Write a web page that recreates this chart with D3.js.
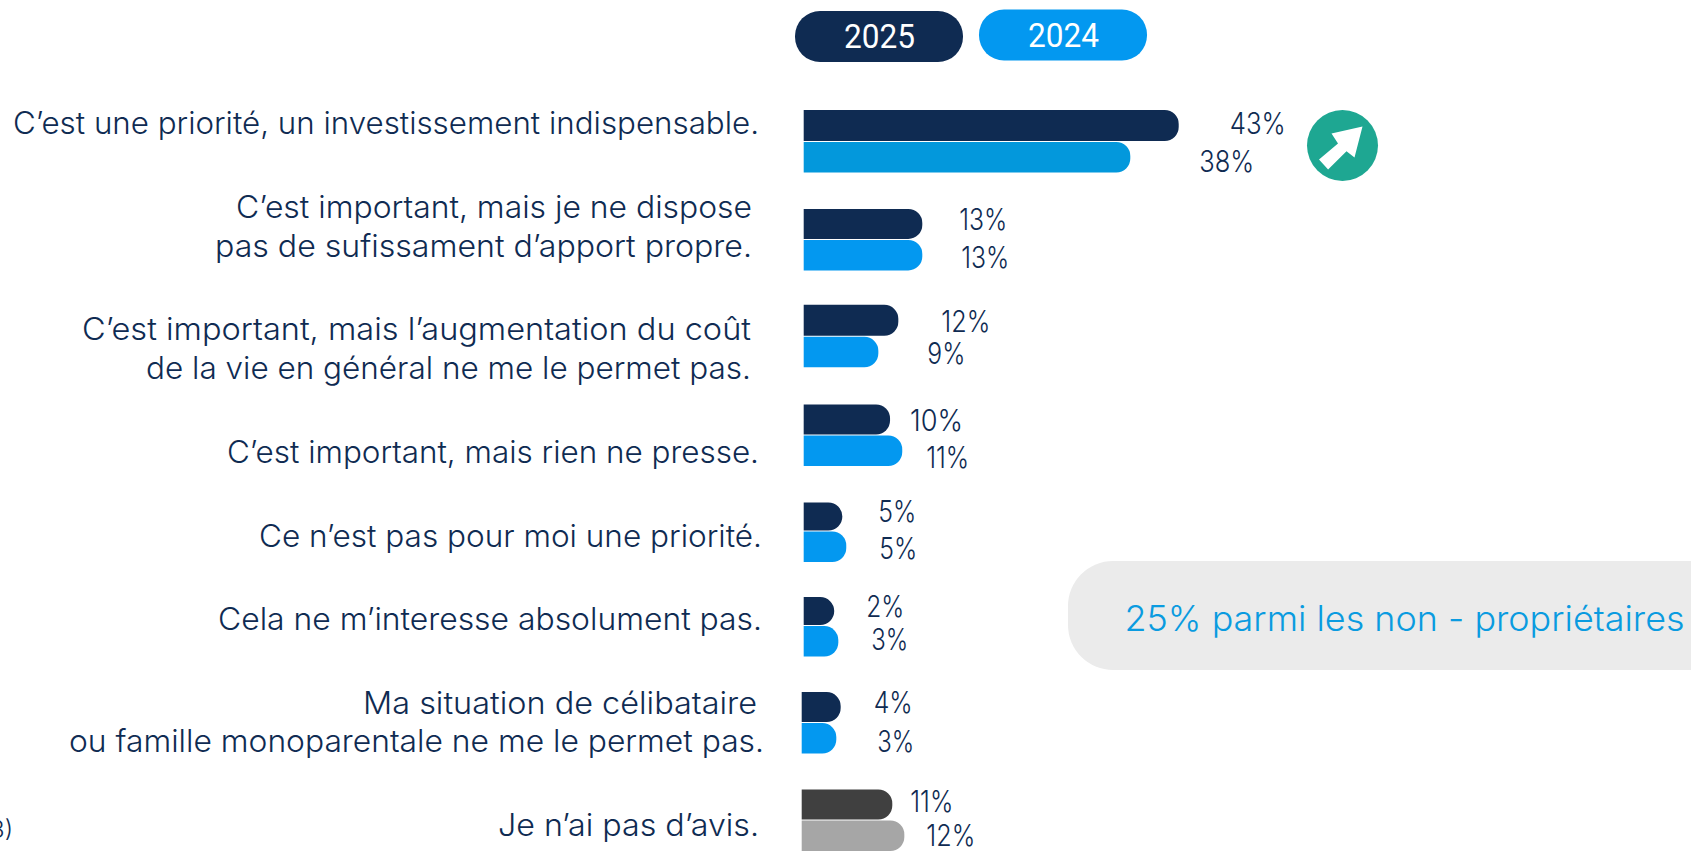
<!DOCTYPE html>
<html><head><meta charset="utf-8">
<script src="https://cdn.jsdelivr.net/npm/d3@7/dist/d3.min.js"></script>
<style>html,body{margin:0;padding:0;background:#fff;overflow:hidden}svg{display:block}
text{font-family:Inter,Lato,sans-serif;font-weight:300}</style></head>
<body><svg id="c" width="1691" height="852"></svg>
<script>
const categories = [
  ["C’est une priorité, un investissement indispensable."],
  ["C’est important, mais je ne dispose","pas de sufissament d’apport propre."],
  ["C’est important, mais l’augmentation du coût","de la vie en général ne me le permet pas."],
  ["C’est important, mais rien ne presse."],
  ["Ce n’est pas pour moi une priorité."],
  ["Cela ne m’interesse absolument pas."],
  ["Ma situation de célibataire","ou famille monoparentale ne me le permet pas."],
  ["Je n’ai pas d’avis."]
];
const years = ["2025","2024"];
const labels2025 = [43,13,12,10,5,2,4,11];
const labels2024 = [38,13,9,11,5,3,3,12];
// bar lengths as drawn in the picture, in percentage points
const bars2025 = [43,13.6,10.85,9.9,4.43,3.5,4.24,10.16];
const bars2024 = [37.45,13.6,8.56,11.3,4.88,3.97,3.74,11.54];
const noteText = "25% parmi les non - propriétaires";
const clippedFootnote = "3)";

// layout tweaks
const rowNudge = [0,1,1,2.7,1.8,-0.6,-0.5,0];
const rowShift = [0,0,0,0,0,0,-2,-2];
const height2025 = [31,30,31,30,28,28,30,30];
const gap2025 = [107,85,92,73,74,70,72,61];
const gap2024 = [124,87,87,67,71,70,78,71];
const width2025 = [56,48,49,53,38,38,39,43];
const width2024 = [55,48,38,43,38,37,37,49];
const dy2025 = [-8,-9.5,-4.5,-4,-9.5,-8.5,-9.5,-8];
const dy2024 = [30,28.5,27.5,33,28,24.5,29,26];
const catRight = [[759],[752,752],[751,751],[759],[762],[762],[757,764],[759]];
const catBase = [[134],[218,257],[340,379],[463],[547],[630],[714,752],[836]];
const catLen = [[746],[516,537],[669,605],[532],[503],[544],[394,695],[261]];
const colors2025 = ["#0F2B52","#0F2B52","#0F2B52","#0F2B52","#0F2B52","#0F2B52","#0F2B52","#404040"];
const colors2024 = ["#0398DC","#0398F0","#0398F0","#0398F0","#0398F0","#0398F0","#0398F0","#A6A6A6"];
const navy="#0F2B52";

const svg=d3.select("#c");
const x=d3.scaleLinear().domain([0,43]).range([803.7,1178.7]);
const y=d3.scalePoint().domain(d3.range(categories.length)).range([141.5,820]);
const cy=i=>y(i)+rowNudge[i];
const barH=30.5;

function barPath(x0,x1,top,h,r){
  const p=d3.path();
  p.moveTo(x0,top);p.lineTo(x1-r,top);
  p.arcTo(x1,top,x1,top+r,r);p.lineTo(x1,top+h-r);
  p.arcTo(x1,top+h,x1-r,top+h,r);p.lineTo(x0,top+h);p.closePath();
  return p.toString();
}
// legend pills
const legendG=svg.append("g");
[[795,11,navy,48],[979,9.5,"#0398F0",46.5]].forEach((d,i)=>{
  legendG.append("rect").attr("x",d[0]).attr("y",d[1]).attr("width",168).attr("height",51).attr("rx",25).attr("fill",d[2]);
  legendG.append("text").attr("x",d[0]+49).attr("y",d[3]).attr("fill","#fff")
    .style("font-family","Roboto").style("font-weight",400).style("font-size","33px")
    .attr("textLength",71).attr("lengthAdjust","spacingAndGlyphs").text(years[i]);
});
// note pill
svg.append("rect").attr("x",1068).attr("y",561).attr("width",700).attr("height",109).attr("rx",45).attr("fill","#EBEBEB");
svg.append("text").attr("x",1124.5).attr("y",631).attr("fill","#0A9BE0").style("font-size","35px")
  .attr("textLength",560).attr("lengthAdjust","spacingAndGlyphs").text(noteText);
// bars
[[bars2025,colors2025,labels2025,gap2025,dy2025,width2025,true],[bars2024,colors2024,labels2024,gap2024,dy2024,width2024,false]].forEach(s=>{
  const g=svg.append("g");
  g.selectAll("path").data(s[0]).join("path")
    .attr("fill",(d,i)=>s[1][i])
    .attr("d",(d,i)=>{
      const h=s[6]?height2025[i]:barH;
      const top=s[6]?cy(i)-h-0.5:cy(i)+0.5;
      return barPath(x(0)+rowShift[i],x(d),top,h,14);
    });
  g.selectAll("text").data(s[2]).join("text")
    .attr("x",(d,i)=>x(s[0][i])+s[3][i]-s[5][i]).attr("y",(d,i)=>cy(i)+s[4][i])
    .attr("fill",navy).style("font-size","30px")
    .attr("textLength",(d,i)=>s[5][i]).attr("lengthAdjust","spacingAndGlyphs").text(d=>d+"%");
});
// category labels
categories.forEach((lines,i)=>lines.forEach((t,j)=>{
  svg.append("text").attr("x",catRight[i][j]-catLen[i][j]).attr("y",catBase[i][j]).attr("fill",navy)
    .style("font-size","31px").attr("textLength",catLen[i][j]).attr("lengthAdjust","spacingAndGlyphs").text(t);
}));
// up arrow badge
const badge=svg.append("g").attr("transform","translate(1342.5,145.5)");
badge.append("circle").attr("r",35.5).attr("fill","#1EA792");
badge.append("path").attr("fill","#fff").attr("d","M20,-19L12,12L4,5.7L-14.4,24L-23.5,14L-4.5,-2L-11,-12Z");
// clipped footnote
svg.append("text").attr("x",13).attr("y",838).attr("text-anchor","end").attr("fill",navy).style("font-size","24px").text(clippedFootnote);
</script></body></html>
